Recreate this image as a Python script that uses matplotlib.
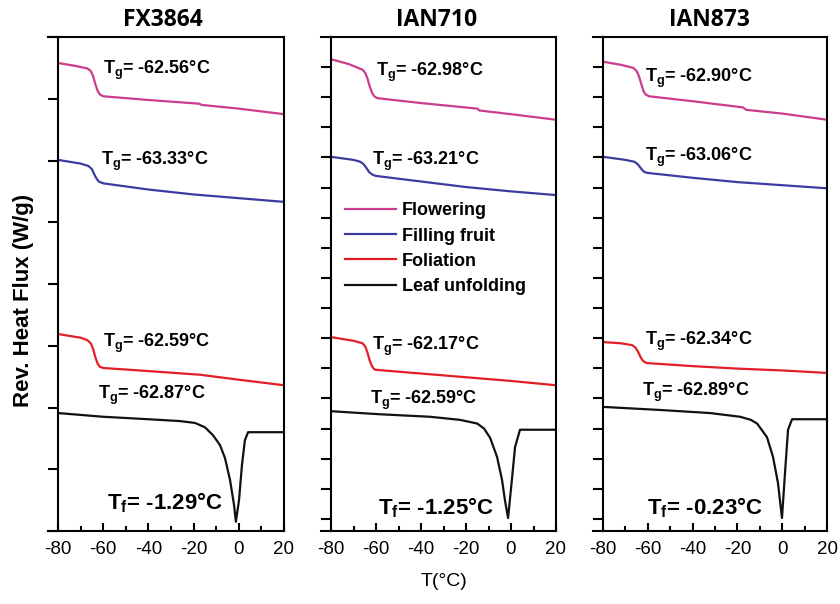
import numpy as np
import matplotlib
matplotlib.use("Agg")
from matplotlib import pyplot as plt

plt.rcParams['font.family'] = ['Liberation Sans', 'DejaVu Sans']
plt.rcParams['mathtext.fontset'] = 'custom'
plt.rcParams['mathtext.rm'] = 'Liberation Sans'
plt.rcParams['mathtext.bf'] = 'Liberation Sans:bold'
plt.rcParams['axes.unicode_minus'] = False

panel_names = ["FX3864", "IAN710", "IAN873"]
series_names = ["Flowering", "Filling fruit", "Foliation", "Leaf unfolding"]
series_colors = ["#CC3C8C", "#3C3CA0", "#E41E26", "#111111"]

# FX3864
fx_flower_t = [-80, -72, -67, -65.5, -64.5, -63.5, -62.5, -61.5, -60, -40, -17.5, -16.5, 0, 20]
fx_flower_v = [7.58, 7.53, 7.49, 7.45, 7.37, 7.24, 7.13, 7.07, 7.04, 6.98, 6.92, 6.90, 6.84, 6.75]
fx_fruit_t = [-80, -70, -66.5, -65, -64, -63, -62, -60, -40, -20, 0, 20]
fx_fruit_v = [6.01, 5.95, 5.91, 5.86, 5.78, 5.71, 5.66, 5.63, 5.53, 5.45, 5.39, 5.33]
fx_foli_t = [-80, -70, -67, -65.5, -64.5, -63.5, -62.5, -61.5, -60, -40, -17, 0, 20]
fx_foli_v = [3.19, 3.13, 3.09, 3.04, 2.95, 2.82, 2.71, 2.66, 2.64, 2.59, 2.53, 2.45, 2.36]
fx_leaf_t = [-80, -70, -60, -40, -26, -19.4, -15, -11.4, -8.3, -6.1, -3.9, -2.1, -1.3, 0.1, 1.4, 2.7, 4.1, 20]
fx_leaf_v = [1.91, 1.88, 1.85, 1.81, 1.78, 1.75, 1.68, 1.55, 1.39, 1.18, 0.83, 0.42, 0.15, 0.50, 1.07, 1.47, 1.60, 1.60]

# IAN710
ian710_flower_t = [-80, -72, -66, -64.8, -63.8, -62.8, -61.8, -60.8, -59.5, -40, -15, -14, 0, 20]
ian710_flower_v = [7.64, 7.56, 7.47, 7.42, 7.33, 7.20, 7.10, 7.04, 7.01, 6.93, 6.84, 6.81, 6.75, 6.66]
ian710_fruit_t = [-80, -70, -67, -65.5, -64.3, -63, -61.5, -60, -40, -20, 0, 20]
ian710_fruit_v = [6.06, 6.01, 5.98, 5.94, 5.88, 5.81, 5.77, 5.75, 5.66, 5.57, 5.50, 5.44]
ian710_foli_t = [-80, -70, -66, -64.8, -63.8, -62.8, -61.8, -60.8, -60, -40, -20, 0, 20]
ian710_foli_v = [3.14, 3.08, 3.04, 2.99, 2.89, 2.76, 2.67, 2.62, 2.61, 2.55, 2.49, 2.43, 2.36]
ian710_leaf_t = [-80, -58, -36, -22.7, -15, -12, -9.3, -6.2, -4.0, -2.7, -1.3, 0.4, 1.8, 4.0, 20]
ian710_leaf_v = [1.94, 1.89, 1.85, 1.80, 1.74, 1.66, 1.51, 1.20, 0.83, 0.50, 0.21, 0.83, 1.36, 1.64, 1.64]

# IAN873
ian873_flower_t = [-80, -72, -66.5, -65, -64, -63, -62, -61, -59.5, -40, -17.5, -16, 0, 20]
ian873_flower_v = [7.60, 7.55, 7.50, 7.45, 7.37, 7.25, 7.13, 7.07, 7.04, 6.96, 6.86, 6.82, 6.76, 6.66]
ian873_fruit_t = [-80, -70, -66, -64.5, -63, -61.8, -60.4, -40, -20, 0, 20]
ian873_fruit_v = [6.06, 6.01, 5.98, 5.94, 5.87, 5.82, 5.80, 5.72, 5.65, 5.60, 5.55]
ian873_foli_t = [-80, -72, -67, -65.5, -64.3, -63, -62, -60.5, -40, -20, 0, 20]
ian873_foli_v = [3.06, 3.04, 3.01, 2.97, 2.90, 2.80, 2.75, 2.72, 2.67, 2.63, 2.60, 2.56]
ian873_leaf_t = [-80, -54.6, -32.2, -18.8, -14, -11.2, -6.8, -4.1, -1.9, -0.1, 1.25, 2.6, 4.4, 20]
ian873_leaf_v = [2.01, 1.96, 1.91, 1.85, 1.80, 1.74, 1.52, 1.20, 0.78, 0.21, 0.94, 1.64, 1.81, 1.81]

# annotation texts (Tg for each series, then Tf)
fx_tg = ["-62.56", "-63.33", "-62.59", "-62.87"]
ian710_tg = ["-62.98", "-63.21", "-62.17", "-62.59"]
ian873_tg = ["-62.90", "-63.06", "-62.34", "-62.89"]
tf_values = ["-1.29", "-1.25", "-0.23"]

panels = [
    [(fx_flower_t, fx_flower_v), (fx_fruit_t, fx_fruit_v), (fx_foli_t, fx_foli_v), (fx_leaf_t, fx_leaf_v)],
    [(ian710_flower_t, ian710_flower_v), (ian710_fruit_t, ian710_fruit_v), (ian710_foli_t, ian710_foli_v), (ian710_leaf_t, ian710_leaf_v)],
    [(ian873_flower_t, ian873_flower_v), (ian873_fruit_t, ian873_fruit_v), (ian873_foli_t, ian873_foli_v), (ian873_leaf_t, ian873_leaf_v)],
]
tg_texts = [fx_tg, ian710_tg, ian873_tg]

# text anchors (T, value) for each panel: Tg labels then Tf label
tg_pos = [
    [(-60.1, 7.40), (-61.0, 5.93), (-60.1, 2.98), (-62.3, 2.14)],
    [(-60.0, 7.37), (-61.8, 5.93), (-61.8, 2.93), (-62.7, 2.06)],
    [(-61.3, 7.27), (-61.3, 5.99), (-61.3, 3.01), (-62.6, 2.19)],
]
tf_pos = [(-58.3, 0.35), (-59.1, 0.27), (-60.4, 0.27)]

fig = plt.figure(figsize=(8.4, 6.04), dpi=100)
lefts = [58, 331, 603]
widths = [226, 225, 224]
title_x = [163, 437, 709]

for i in range(3):
    ax = fig.add_axes([lefts[i] / 840, 73 / 604, widths[i] / 840, 494 / 604])
    for j in range(4):
        t, v = panels[i][j]
        ax.plot(t, v, color=series_colors[j], lw=1.6, label=series_names[j])
    for j in range(4):
        x, y = tg_pos[i][j]
        ax.text(x, y, r"$\mathbf{T_g}$= " + tg_texts[i][j] + "°C", fontsize=13, fontweight='bold', va='baseline')
    x, y = tf_pos[i]
    ax.text(x, y, r"$\mathbf{T_f}$= " + tf_values[i] + "°C", fontsize=16, fontweight='bold', va='baseline')

    ax.set_xlim(-80, 20)
    ax.set_ylim(0, 8)
    ax.set_xticks([-80, -60, -40, -20, 0, 20])
    ax.set_xticks([-70, -50, -30, -10, 10], minor=True)
    if i == 0:
        ax.set_yticks(np.arange(0, 9, 1))
    else:
        ax.set_yticks(np.arange(0.194, 8.0, 0.488))
    ax.set_yticklabels([])
    ax.tick_params(axis='x', which='major', direction='in', length=6, width=1.5, labelsize=13.5, pad=7)
    ax.tick_params(axis='x', which='minor', direction='in', length=3.5, width=1.5)
    ax.tick_params(axis='y', direction='out', length=7, width=1.5)
    for s in ax.spines.values():
        s.set_linewidth(1.5)
    ax.plot([-0.045, 0], [1, 1], transform=ax.transAxes, color='k', lw=1.5, clip_on=False)
    ax.plot([-0.045, 0], [0, 0], transform=ax.transAxes, color='k', lw=1.5, clip_on=False)

    fig.text(title_x[i] / 840, 1 - 20 / 604, panel_names[i], ha='center', va='center',
             fontsize=16.5, fontweight='bold', family='Open Sans')

    if i == 1:
        ax.legend(loc='upper left', bbox_to_anchor=(0.062, 0.665), frameon=False,
                  borderpad=0, borderaxespad=0, handlelength=2.85, handletextpad=0.3,
                  labelspacing=0.45, prop={'size': 13, 'weight': 'bold'})

fig.text(24 / 840, 1 - 300 / 604, "Rev. Heat Flux (W/g)", rotation=90, ha='center', va='center',
         fontsize=16, fontweight='bold')
fig.text(444 / 840, 1 - 581 / 604, "T(°C)", ha='center', va='center', fontsize=14)

fig.savefig("out.png", dpi=100)
